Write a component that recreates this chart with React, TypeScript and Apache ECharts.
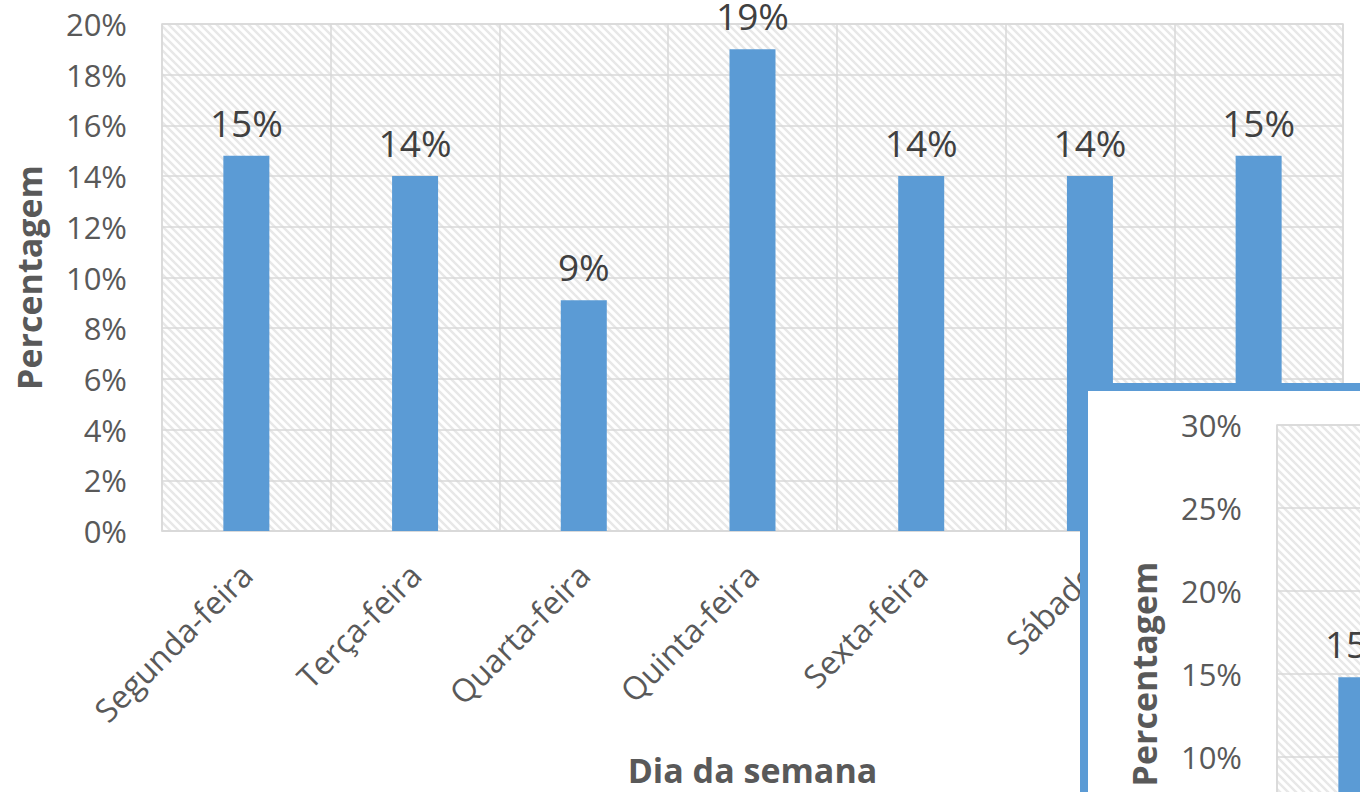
import React, { useEffect, useRef } from "react";
import * as echarts from "echarts";

const categories = ["Segunda-feira", "Terça-feira", "Quarta-feira", "Quinta-feira", "Sexta-feira", "Sábado", "Domingo"];
const values = [14.8, 14.0, 9.1, 19.0, 14.0, 14.0, 14.8];
const insetValues = [14.8, 14.0, 9.1, 19.0, 14.0, 14.0, 14.8];
const mainAxis = { min: 0, max: 20, interval: 2 };
const insetAxis = { min: 0, max: 30, interval: 5 };

const FONT = "Open Sans";
const GRID_C = "#D9D9D9";
const TXT = "#595959";
const BAR = "#5B9BD5";

function makeHatch() {
  const c = document.createElement("canvas");
  c.width = 8;
  c.height = 8;
  const ctx = c.getContext("2d")!;
  ctx.fillStyle = "#ffffff";
  ctx.fillRect(0, 0, 8, 8);
  ctx.strokeStyle = "#E8E8E8";
  ctx.lineWidth = 2.5;
  for (const o of [-8, 0, 8]) {
    ctx.beginPath();
    ctx.moveTo(o - 1, -1);
    ctx.lineTo(o + 9, 9);
    ctx.stroke();
  }
  return { image: c, repeat: "repeat", imageWidth: 8, imageHeight: 8 } as any;
}

export default function App() {
  const ref = useRef<HTMLDivElement>(null);
  useEffect(() => {
    const chart = echarts.init(ref.current!, null, { renderer: "svg" });
    const hatch = makeHatch();
    const yLabel = { formatter: "{value}%", fontSize: 31, color: TXT, fontFamily: FONT, margin: 35 };
    const xLabel = { rotate: 45, fontSize: 32, color: TXT, fontFamily: FONT, margin: 38 };
    const axisName = { fontSize: 34, fontWeight: "bold", color: TXT, fontFamily: FONT };
    const splitLine = { show: true, lineStyle: { color: GRID_C, width: 1.5 } };
    const barLabel = {
      show: true,
      position: "top",
      distance: 15,
      fontSize: 37,
      color: "#404040",
      fontFamily: FONT,
      formatter: (p: any) => Math.round(p.value) + "%",
    };
    chart.setOption({
      animation: false,
      backgroundColor: "#ffffff",
      grid: [
        {
          left: 162, top: 24, right: 17, bottom: 261, show: true, backgroundColor: hatch,
          borderColor: GRID_C, borderWidth: 1.5, z: 0, outerBoundsMode: "none",
        },
        {
          left: 1277, top: 425, width: 1181, height: 498, show: true, backgroundColor: hatch,
          borderColor: GRID_C, borderWidth: 1.5, z: 11, outerBoundsMode: "none", containLabel: false,
        },
      ],
      graphic: [
        {
          type: "rect",
          z: 10,
          shape: { x: 1084, y: 387, width: 500, height: 600 },
          style: { fill: "#ffffff", stroke: BAR, lineWidth: 8 },
        },
      ],
      xAxis: [
        {
          type: "category",
          gridIndex: 0,
          data: categories,
          axisLine: { show: true, lineStyle: { color: GRID_C, width: 1.5 } },
          axisTick: { show: false },
          splitLine,
          axisLabel: xLabel,
          name: "Dia da semana",
          nameLocation: "middle",
          nameGap: 222,
          nameTextStyle: axisName,
        },
        {
          type: "category",
          gridIndex: 1,
          z: 12,
          data: categories,
          axisLine: { show: true, lineStyle: { color: GRID_C, width: 1.5 } },
          axisTick: { show: false },
          splitLine,
          axisLabel: xLabel,
        },
      ],
      yAxis: [
        {
          type: "value",
          gridIndex: 0,
          ...mainAxis,
          axisLine: { show: false },
          axisTick: { show: false },
          splitLine,
          axisLabel: yLabel,
          name: "Percentagem",
          nameLocation: "middle",
          nameGap: 116,
          nameTextStyle: axisName,
        },
        {
          type: "value",
          gridIndex: 1,
          z: 12,
          ...insetAxis,
          axisLine: { show: false },
          axisTick: { show: false },
          splitLine,
          axisLabel: yLabel,
          name: "Percentagem",
          nameLocation: "middle",
          nameGap: 116,
          nameTextStyle: axisName,
        },
      ],
      series: [
        {
          type: "bar",
          xAxisIndex: 0,
          yAxisIndex: 0,
          data: values,
          barWidth: 46,
          itemStyle: { color: BAR },
          label: barLabel,
          z: 2,
        },
        {
          type: "bar",
          xAxisIndex: 1,
          yAxisIndex: 1,
          data: insetValues,
          barWidth: 46,
          itemStyle: { color: BAR },
          label: barLabel,
          z: 13,
        },
      ],
    });
    return () => chart.dispose();
  }, []);
  return <div ref={ref} style={{ position: "fixed", left: 0, top: 0, width: 1360, height: 792 }} />;
}
